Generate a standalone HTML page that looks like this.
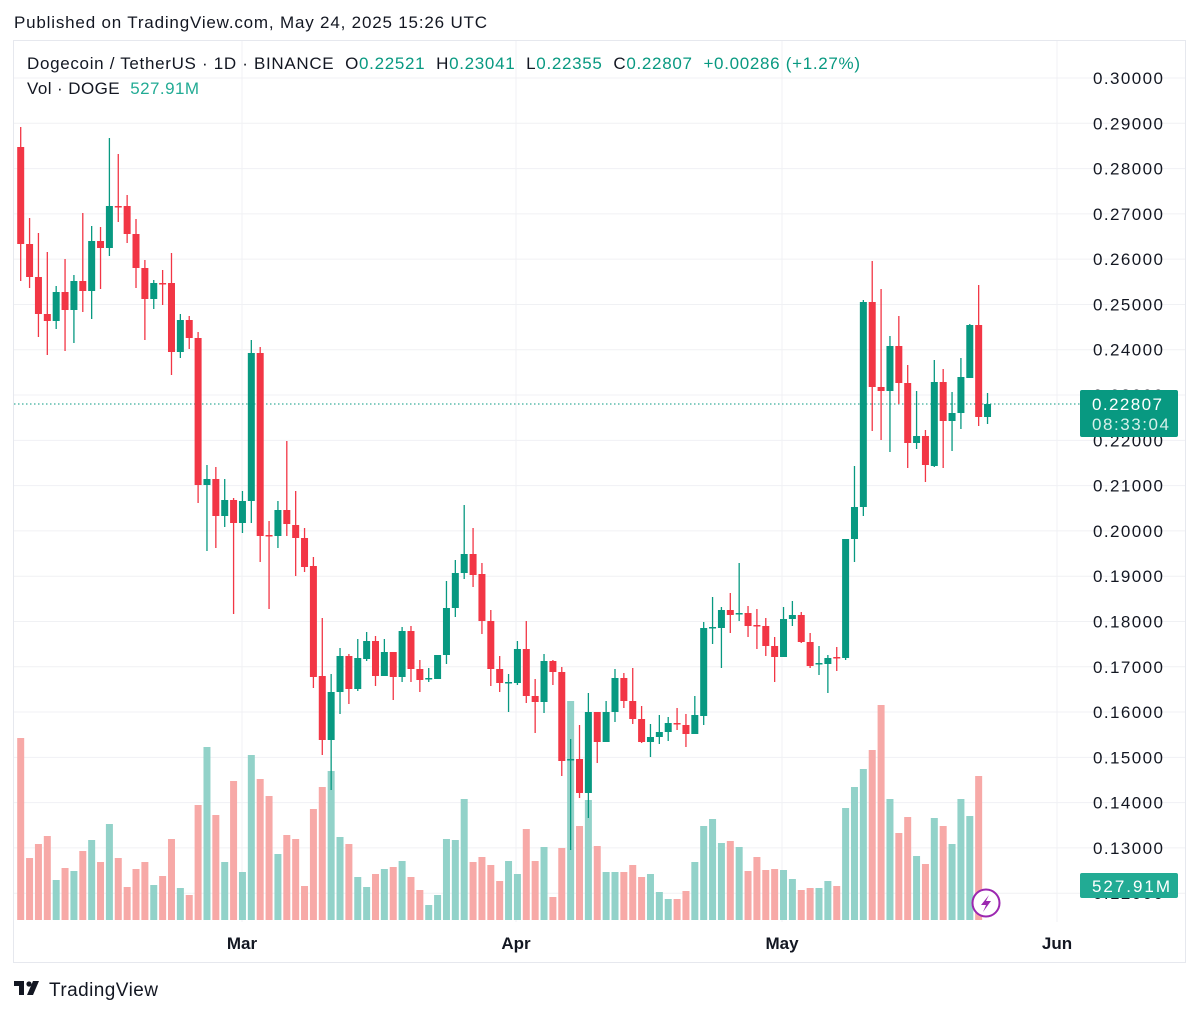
<!DOCTYPE html>
<html><head><meta charset="utf-8">
<style>
body{margin:0;background:#fff;width:1200px;height:1014px;overflow:hidden;font-family:"Liberation Sans",sans-serif;}
svg{position:absolute;left:0;top:0}
</style></head>
<body>
<svg id="s" width="1200" height="1014" xmlns="http://www.w3.org/2000/svg" font-family="Liberation Sans, sans-serif">
<rect x="0" y="0" width="1200" height="1014" fill="#fff"/>
<rect x="13.5" y="40.5" width="1172" height="922" fill="none" stroke="#e6e8ee" stroke-width="1"/>
<g id="grid" stroke="#f0f1f4" stroke-width="1"></g>
<g id="vol"></g>
<line x1="14" y1="404" x2="1080" y2="404" stroke="#089981" stroke-width="1" stroke-dasharray="1.5,2.5"/>
<g id="cand"></g>
<g id="lab" font-size="17" fill="#131722"></g>
<text x="14" y="28" font-size="17" fill="#131722" textLength="473" lengthAdjust="spacing">Published on TradingView.com, May 24, 2025 15:26 UTC</text>
<text x="27" y="69" font-size="17" fill="#131722" xml:space="preserve" textLength="833" lengthAdjust="spacing">Dogecoin / TetherUS · 1D · BINANCE  O<tspan fill="#089981">0.22521</tspan>  H<tspan fill="#089981">0.23041</tspan>  L<tspan fill="#089981">0.22355</tspan>  C<tspan fill="#089981">0.22807  +0.00286 (+1.27%)</tspan></text>
<text x="27" y="94" font-size="17" fill="#131722" xml:space="preserve" textLength="172" lengthAdjust="spacing">Vol · DOGE  <tspan fill="#22ab94">527.91M</tspan></text>
<rect x="1080" y="390" width="98" height="47" rx="2" fill="#089981"/>
<text x="1092" y="410" font-size="17" fill="#fff" textLength="70">0.22807</text>
<text x="1092" y="430" font-size="17" fill="#d6f0ea" textLength="77">08:33:04</text>
<rect x="1080" y="873" width="98" height="25" rx="2" fill="#22ab94"/>
<text x="1092" y="892" font-size="17" fill="#fff" textLength="78">527.91M</text>
<circle cx="986" cy="903" r="13.5" fill="#fff" stroke="#9c27b0" stroke-width="2"/>
<path d="M989 895 L981 905 L986 905 L983 912 L991 901 L986 901 Z" fill="#9c27b0"/>
<g font-size="17" font-weight="bold" fill="#131722" text-anchor="middle">
<text x="242" y="949">Mar</text><text x="516" y="949">Apr</text><text x="782" y="949">May</text><text x="1057" y="949">Jun</text>
</g>
<g fill="#131722"><path d="M14 981 h10 v14 h-5 v-9 h-5 z"/><circle cx="29" cy="984" r="2.6"/><path d="M33 981 h6 l-6 14 h-6 z"/></g>
<text x="49" y="996" font-size="19" fill="#131722" textLength="109" lengthAdjust="spacing">TradingView</text>
</svg>
<script>
var NS="http://www.w3.org/2000/svg";
function el(t,a,p){var e=document.createElementNS(NS,t);for(var k in a)e.setAttribute(k,a[k]);p.appendChild(e);return e;}
var grid=document.getElementById('grid'),lab=document.getElementById('lab');
for(var i=0;i<=18;i++){var p=0.30-i*0.01;var y=78+(0.30-p)*4529;if(y>920)break;
 el('line',{x1:14,y1:y,x2:1185,y2:y},grid);
 var t=el('text',{x:1093,y:y+6,textLength:70},lab);t.textContent=p.toFixed(5);}
[242,516,782,1057].forEach(function(x){el('line',{x1:x,y1:41,x2:x,y2:922},grid);});
var C=[[147,244,127,281],[244,277,218,288],[277,314,233,337],[314,321,252,355],[321,292,286,329],[292,310,259,351],[310,281,275,343],[281,291,213,312],[291,241,226,319],[241,248,227,289],
[248,206,138,256],[206,207,154,222],[206,234,195,243],[234,268,219,288],[268,299,260,340],[299,283,280,309],[283,284,270,305],[283,352,253,375],[352,320,314,358],[320,338,316,349],
[338,485,332,503],[485,479,465,551],[479,516,467,548],[516,500,479,527],[500,523,498,614],[523,501,491,533],[501,353,340,523],[353,536,347,562],[535,536,521,609],[536,510,501,548],
[510,524,441,536],[525,538,491,576],[538,567,528,572],[566,677,557,688],[676,740,618,755],[740,692,674,790],[692,656,648,714],[656,689,654,704],[689,658,639,691],[659,641,632,661],
[641,676,636,686],[676,652,639,676],[652,677,652,700],[677,631,627,682],[631,669,626,682],[669,680,660,692],[679,678,668,682],[679,655,655,679],[655,608,581,664],[608,573,560,617],
[573,554,505,579],[554,575,528,587],[574,621,563,634],[621,669,610,686],[669,683,656,692],[683,682,674,712],[683,649,641,685],[649,696,621,703],[696,702,679,733],[702,661,654,713],
[661,672,660,685],[672,761,667,776],[760,759,739,850],[759,793,725,798],[793,712,693,818],[712,742,712,763],[742,712,701,742],[712,678,669,722],[678,701,673,708],[701,719,668,724],
[719,742,706,743],[742,737,724,757],[737,732,715,744],[732,723,717,741],[723,724,708,730],[725,734,714,747],[734,715,696,734],[716,628,622,725],[628,627,597,644],[628,610,607,668],
[610,615,593,633],[614,613,563,621],[613,626,606,637],[625,626,609,649],[626,646,618,656],[646,657,637,682],[657,619,607,657],[619,615,601,626],[615,642,612,643],[642,666,633,668],
[664,663,646,675],[664,658,655,693],[657,658,647,671],[658,539,539,660],[539,507,466,562],[507,302,300,516],[302,387,261,431],[387,391,289,440],[391,346,336,452],[346,383,316,404],
[383,443,365,468],[443,436,391,449],[436,465,430,482],[466,382,360,467],[382,421,369,468],[421,413,392,451],[413,377,358,429],[378,325,324,378],[325,417,285,426],[417,404,393,424]];
var dojiGreen={46:1,55:1,62:1,78:1,81:1,90:1};
var V=[738,858,844,836,880,868,871,851,840,862,824,858,887,869,862,885,876,839,888,895,805,747,815,862,781,872,755,779,796,854,835,839,886,809,787,771,837,844,877,887,874,869,867,861,877,890,905,895,839,840,799,862,857,865,881,861,874,829,861,847,897,848,701,826,800,846,872,872,872,865,877,874,892,899,899,891,862,826,819,843,841,847,871,857,870,869,870,879,890,888,888,881,886,808,787,769,750,705,799,833,817,856,864,818,826,844,799,816,776];
var cg=document.getElementById('cand'),vg=document.getElementById('vol');
C.forEach(function(c,i){var x=20.7+i*8.87;var o=c[0],cl=c[1];
 var green=cl<o||(cl==o&&dojiGreen[i])||(Math.abs(cl-o)<=1&&dojiGreen[i]);
 if(cl==o+1&&!dojiGreen[i])green=false;
 var col=green?'#089981':'#f23645';
 if(i<V.length){el('rect',{x:x-3.5,y:V[i],width:7,height:920-V[i],fill:green?'#92d2c9':'#f7a9a7'},vg);}
 el('line',{x1:x,y1:c[2],x2:x,y2:c[3],stroke:col,'stroke-width':1.3},cg);
 var t=Math.min(o,cl),h=Math.max(Math.abs(cl-o),1.5);
 el('rect',{x:x-3.5,y:t,width:7,height:h,fill:col},cg);});
</script>
</body></html>
